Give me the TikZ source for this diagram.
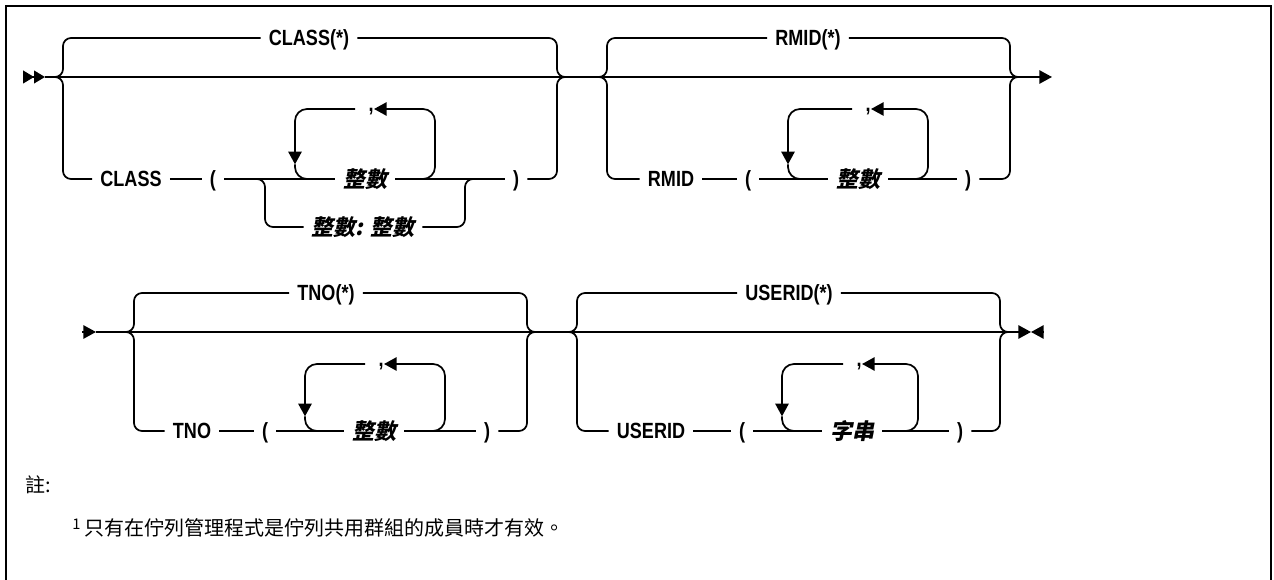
\documentclass[tikz,border=0pt]{standalone}
\usepackage{fontspec}
\newfontfamily\rrfont[FakeStretch=0.82]{Liberation Sans}
\newfontfamily\cjk{Noto Sans CJK TC}
\newfontfamily\cjkslant[FakeSlant=0.2]{Noto Sans CJK TC}
\usetikzlibrary{arrows.meta}

\begin{document}
\begin{tikzpicture}[
    x=0.75pt, y=-0.75pt,
    rr/.style={line width=1.3pt},
    tip/.style={-{Triangle[length=9.5pt 0 0, width=10pt 0]}},
    brc/.style={rr, rounded corners=6pt},
    loopc/.style={rr, rounded corners=9pt},
    kw/.style={font=\rrfont\bfseries\fontsize{16.5}{19}\selectfont,
               inner xsep=6pt, inner ysep=0pt,
               text height=11.8pt, text depth=0pt},
    var/.style={kw, font=\cjkslant\bfseries\fontsize{16.5}{19}\selectfont,
                text height=12.4pt},
    comma/.style={kw, inner xsep=0pt, text height=3.5pt},
    note/.style={font=\cjk\fontsize{15}{18}\selectfont, inner sep=0pt},
]
\useasboundingbox (0,0) rectangle (1274,580);
\draw[line width=1.8pt] (6,580) -- (6,6) -- (1271,6) -- (1271,580);

% ================================================== row 1: CLASS, RMID
\node[kw] (cls-star) at (309,38) {CLASS(*)};
\node[kw] (cls) at (131,179) {CLASS};
\node[kw] (cls-open) at (213,179) {(};
\node[var] (cls-var) at (365,179) {整數};
\node[comma, anchor=east] (cls-comma) at (374,109) {,};
\node[var] (cls-range) at (363,227) {整數: 整數};
\node[kw] (cls-close) at (516,179) {)};
\coordinate (cls-L) at (63,77);
\coordinate (cls-R) at (557,77);
\coordinate (cls-LL) at (295,179);
\coordinate (cls-LR) at (435,179);
\coordinate (cls-AL) at (265,179);
\coordinate (cls-AR) at (465,179);

\node[kw] (rmid-star) at (808,38) {RMID(*)};
\node[kw] (rmid) at (671,179) {RMID};
\node[kw] (rmid-open) at (748,179) {(};
\node[var] (rmid-var) at (858,179) {整數};
\node[comma, anchor=east] (rmid-comma) at (871,109) {,};
\node[kw] (rmid-close) at (968,179) {)};
\coordinate (rmid-L) at (607,77);
\coordinate (rmid-R) at (1010,77);
\coordinate (rmid-LL) at (788,179);
\coordinate (rmid-LR) at (928,179);

\coordinate (st1) at (23,77);
\coordinate (in1) at (45,77);
\coordinate (out1) at (1052,77);
\draw[rr, -{Triangle[length=8.2pt 0 0, width=9.5pt 0]Triangle[length=8.2pt 0 0, width=9.5pt 0]}]
     (st1) -- (in1);
\draw[rr, tip] (in1) -- (out1);

% the range branch under CLASS
\draw[brc] ([xshift=-8pt]cls-AL) -- (cls-AL) |- (cls-range.west);
\draw[brc] (cls-range.east) -| (cls-AR) -- ++(10,0);

% ================================================== row 2: TNO, USERID
\node[kw] (tno-star) at (326,293) {TNO(*)};
\node[kw] (tno) at (192,431) {TNO};
\node[kw] (tno-open) at (265,431) {(};
\node[var] (tno-var) at (374,431) {整數};
\node[comma, anchor=east] (tno-comma) at (384,364) {,};
\node[kw] (tno-close) at (487,431) {)};
\coordinate (tno-L) at (134,332);
\coordinate (tno-R) at (527,332);
\coordinate (tno-LL) at (305,431);
\coordinate (tno-LR) at (445,431);

\node[kw] (userid-star) at (789,293) {USERID(*)};
\node[kw] (userid) at (651,431) {USERID};
\node[kw] (userid-open) at (742,431) {(};
\node[var] (userid-var) at (852,431) {字串};
\node[comma, anchor=east] (userid-comma) at (862,364) {,};
\node[kw] (userid-close) at (960,431) {)};
\coordinate (userid-L) at (577,332);
\coordinate (userid-R) at (1000,332);
\coordinate (userid-LL) at (782,431);
\coordinate (userid-LR) at (918,431);

\coordinate (st2) at (82,332);
\coordinate (in2) at (96,332);
\coordinate (end2) at (1031,332);
\coordinate (end2b) at (1043,332);
\draw[rr, tip] (st2) -- (in2);
\draw[rr, tip] (in2) -- (end2);
\draw[rr, tip] (end2b) -- (end2);

% ================================================== the four groups
\foreach \g in {cls, rmid, tno, userid}{
  \draw[rr] (\g.east) -- (\g-open.west);
  \draw[rr] (\g-open.east) -- (\g-var.west);
  \draw[rr] (\g-var.east) -- (\g-close.west);
  % braces
  \draw[brc] (\g-star.west) -| (\g-L) -- ++(-10,0);
  \draw[brc] (\g.west) -| (\g-L) -- ++(-10,0);
  \draw[brc] (\g-star.east) -| (\g-R) -- ++(10,0);
  \draw[brc] (\g-close.east) -| (\g-R) -- ++(10,0);
  % repeat loop
  \draw[loopc, tip] (\g-var.east) -- (\g-LR) |- (\g-comma.east);
  \draw[loopc, tip, shorten <=10pt] (\g-comma.west) -| ([yshift=11pt]\g-LL);
  \draw[loopc] ([yshift=11pt]\g-LL) -- (\g-LL) -- ++(24,0);
}

% ================================================== note
\node[note, anchor=west] (note-head) at (25,485) {註:};
\node[note, anchor=west] (note-one) at (72,528)
     {\raisebox{5pt}{\fontsize{11}{12}\selectfont 1}\hspace{3pt}只有在佇列管理程式是佇列共用群組的成員時才有效。};

\end{tikzpicture}
\end{document}
